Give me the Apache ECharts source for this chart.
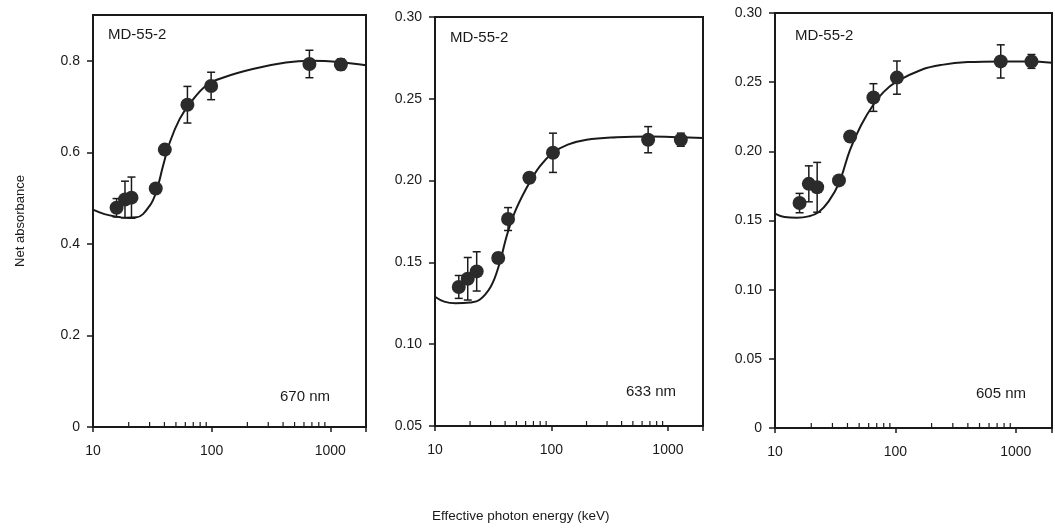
<!DOCTYPE html>
<html>
<head>
<meta charset="utf-8">
<script src="https://cdn.jsdelivr.net/npm/echarts@6/dist/echarts.min.js"></script>
<style>
  html, body { margin: 0; padding: 0; background: #fff; }
  #chart { width: 1055px; height: 531px; }
</style>
</head>
<body>
<div id="chart"></div>
<script>
// panel 1, 670 nm
var x670 = [15.8, 18.6, 21.1, 33.8, 40.3, 62.5, 99, 667, 1228];
var y670 = [0.479, 0.497, 0.501, 0.521, 0.606, 0.704, 0.745, 0.793, 0.792];
var e670 = [0.02, 0.04, 0.045, 0.01, 0.01, 0.04, 0.03, 0.03, 0.012];
var fit670 = [[10,0.475],[12.5,0.465],[15.3,0.46],[19,0.457],[23.3,0.458],[30,0.483],[34.3,0.516],[39,0.571],[44.4,0.622],[53.8,0.673],[65.3,0.706],[90,0.746],[124,0.763],[222,0.782],[423,0.796],[675,0.8],[1220,0.797],[2000,0.79]];

// panel 2, 633 nm
var x633 = [16.0, 19.1, 22.8, 34.9, 42.4, 64.6, 103, 676, 1290];
var y633 = [0.135, 0.140, 0.1445, 0.1527, 0.1765, 0.2017, 0.217, 0.225, 0.225];
var e633 = [0.007, 0.013, 0.012, 0.003, 0.007, 0.003, 0.012, 0.008, 0.004];
var fit633 = [[10,0.129],[12,0.126],[15,0.125],[20,0.1255],[24,0.127],[30,0.135],[35,0.147],[42,0.168],[50,0.183],[65,0.199],[80,0.209],[103,0.217],[138,0.222],[200,0.225],[363,0.2265],[700,0.227],[1300,0.2265],[2000,0.226]];

// panel 3, 605 nm
var x605 = [16.0, 19.1, 22.4, 34.0, 42.1, 65.7, 103, 750, 1350];
var y605 = [0.1626, 0.1765, 0.174, 0.179, 0.2107, 0.2389, 0.2533, 0.265, 0.265];
var e605 = [0.007, 0.013, 0.018, 0.003, 0.003, 0.01, 0.012, 0.012, 0.005];
var fit605 = [[10,0.155],[12,0.1525],[15.2,0.152],[19,0.153],[23,0.156],[28,0.164],[34,0.177],[42,0.201],[52,0.219],[66,0.234],[80,0.243],[103,0.2505],[165,0.259],[243,0.2625],[400,0.2645],[750,0.265],[1300,0.265],[2000,0.264]];

var minorTicks = [20,30,40,50,60,70,80,90,200,300,400,500,600,700,800,900,2000];
var yTicks1 = [0, 0.2, 0.4, 0.6, 0.8];

var ink = '#1a1a1a';
var font = 'Liberation Sans, Arial, sans-serif';

function zip(xs, ys, es) {
  return xs.map(function (x, i) { return [x, ys[i], es[i]]; });
}

function errorItem(params, api) {
  var x = api.value(0), y = api.value(1), e = api.value(2);
  var lo = api.coord([x, y - e]);
  var hi = api.coord([x, y + e]);
  var w = 4;
  var st = { stroke: ink, lineWidth: 1.5 };
  return {
    type: 'group',
    children: [
      { type: 'line', shape: { x1: lo[0], y1: lo[1], x2: hi[0], y2: hi[1] }, style: st },
      { type: 'line', shape: { x1: hi[0] - w, y1: hi[1], x2: hi[0] + w, y2: hi[1] }, style: st },
      { type: 'line', shape: { x1: lo[0] - w, y1: lo[1], x2: lo[0] + w, y2: lo[1] }, style: st }
    ]
  };
}

function minorTickItem(params, api) {
  var p = api.coord([api.value(0), api.value(1)]);
  return {
    type: 'line',
    shape: { x1: p[0], y1: p[1], x2: p[0], y2: p[1] - 5 },
    style: { stroke: ink, lineWidth: 1.2 }
  };
}

var grids = [
  { left: 93, right: 689, top: 15, bottom: 104 },
  { left: 435, right: 352, top: 17, bottom: 105 },
  { left: 775, right: 3, top: 13, bottom: 103 }
];

var yRanges = [
  { min: 0, max: 0.9, interval: 0.2, fmt: function (v) { return v === 0 ? '0' : v.toFixed(1); } },
  { min: 0.05, max: 0.30, interval: 0.05, fmt: function (v) { return v.toFixed(2); } },
  { min: 0, max: 0.30, interval: 0.05, fmt: function (v) { return v === 0 ? '0' : v.toFixed(2); } }
];

var panels = [
  { pts: zip(x670, y670, e670), fit: fit670, ymin: 0 },
  { pts: zip(x633, y633, e633), fit: fit633, ymin: 0.05 },
  { pts: zip(x605, y605, e605), fit: fit605, ymin: 0 }
];

var xAxes = [], yAxes = [], series = [];
grids.forEach(function (g, i) {
  g.show = true;
  g.borderColor = ink;
  g.borderWidth = 2;
  g.backgroundColor = 'transparent';
  xAxes.push({
    type: 'log', logBase: 10, min: 10, max: 2000, gridIndex: i,
    axisLine: { lineStyle: { color: ink, width: 2 } },
    axisTick: { length: 5, lineStyle: { color: ink, width: 1.5 } },
    axisLabel: { color: ink, fontSize: 14, fontFamily: font, margin: 17,
      formatter: function (v) { return [10, 100, 1000].indexOf(Math.round(v)) >= 0 ? String(Math.round(v)) : ''; } },
    splitLine: { show: false }
  });
  var r = yRanges[i];
  var ya = {
    type: 'value', min: r.min, max: r.max, interval: r.interval, gridIndex: i,
    axisLine: { show: true, lineStyle: { color: ink, width: 2 } },
    axisTick: { show: true, length: 6, lineStyle: { color: ink, width: 1.5 } },
    axisLabel: { color: ink, fontSize: 14, fontFamily: font, margin: 13, formatter: r.fmt },
    splitLine: { show: false }
  };
  if (i === 0) {
    ya.axisLabel.customValues = yTicks1;
    ya.axisTick.customValues = yTicks1;
    ya.name = 'Net absorbance';
    ya.nameLocation = 'middle';
    ya.nameGap = 66;
    ya.nameTextStyle = { color: ink, fontSize: 13, fontFamily: font };
  }
  yAxes.push(ya);

  var p = panels[i];
  series.push({
    type: 'line', xAxisIndex: i, yAxisIndex: i, data: p.fit, smooth: 0.4,
    showSymbol: false, lineStyle: { color: ink, width: 2 }, z: 2, silent: true
  });
  series.push({
    type: 'custom', xAxisIndex: i, yAxisIndex: i, data: p.pts,
    renderItem: errorItem, z: 3, silent: true
  });
  series.push({
    type: 'scatter', xAxisIndex: i, yAxisIndex: i, data: p.pts,
    symbolSize: 14, itemStyle: { color: '#2b2b2b', opacity: 1 }, z: 4, silent: true
  });
  series.push({
    type: 'custom', xAxisIndex: i, yAxisIndex: i,
    data: minorTicks.map(function (t) { return [t, p.ymin]; }),
    renderItem: minorTickItem, z: 5, silent: true, clip: false
  });
});

var labelStyle = { fill: ink, font: '15px ' + font };
var option = {
  backgroundColor: '#fff',
  animation: false,
  grid: grids,
  xAxis: xAxes,
  yAxis: yAxes,
  series: series,
  graphic: [
    { type: 'text', left: 108, top: 27, style: Object.assign({ text: 'MD-55-2' }, labelStyle) },
    { type: 'text', left: 450, top: 30, style: Object.assign({ text: 'MD-55-2' }, labelStyle) },
    { type: 'text', left: 795, top: 28, style: Object.assign({ text: 'MD-55-2' }, labelStyle) },
    { type: 'text', left: 280, top: 389, style: Object.assign({ text: '670 nm' }, labelStyle) },
    { type: 'text', left: 626, top: 384, style: Object.assign({ text: '633 nm' }, labelStyle) },
    { type: 'text', left: 976, top: 386, style: Object.assign({ text: '605 nm' }, labelStyle) },
    { type: 'text', left: 432, top: 509, style: { text: 'Effective photon energy (keV)', fill: ink, font: '13.5px ' + font } }
  ]
};

var chart = echarts.init(document.getElementById('chart'));
chart.setOption(option);
</script>
</body>
</html>
